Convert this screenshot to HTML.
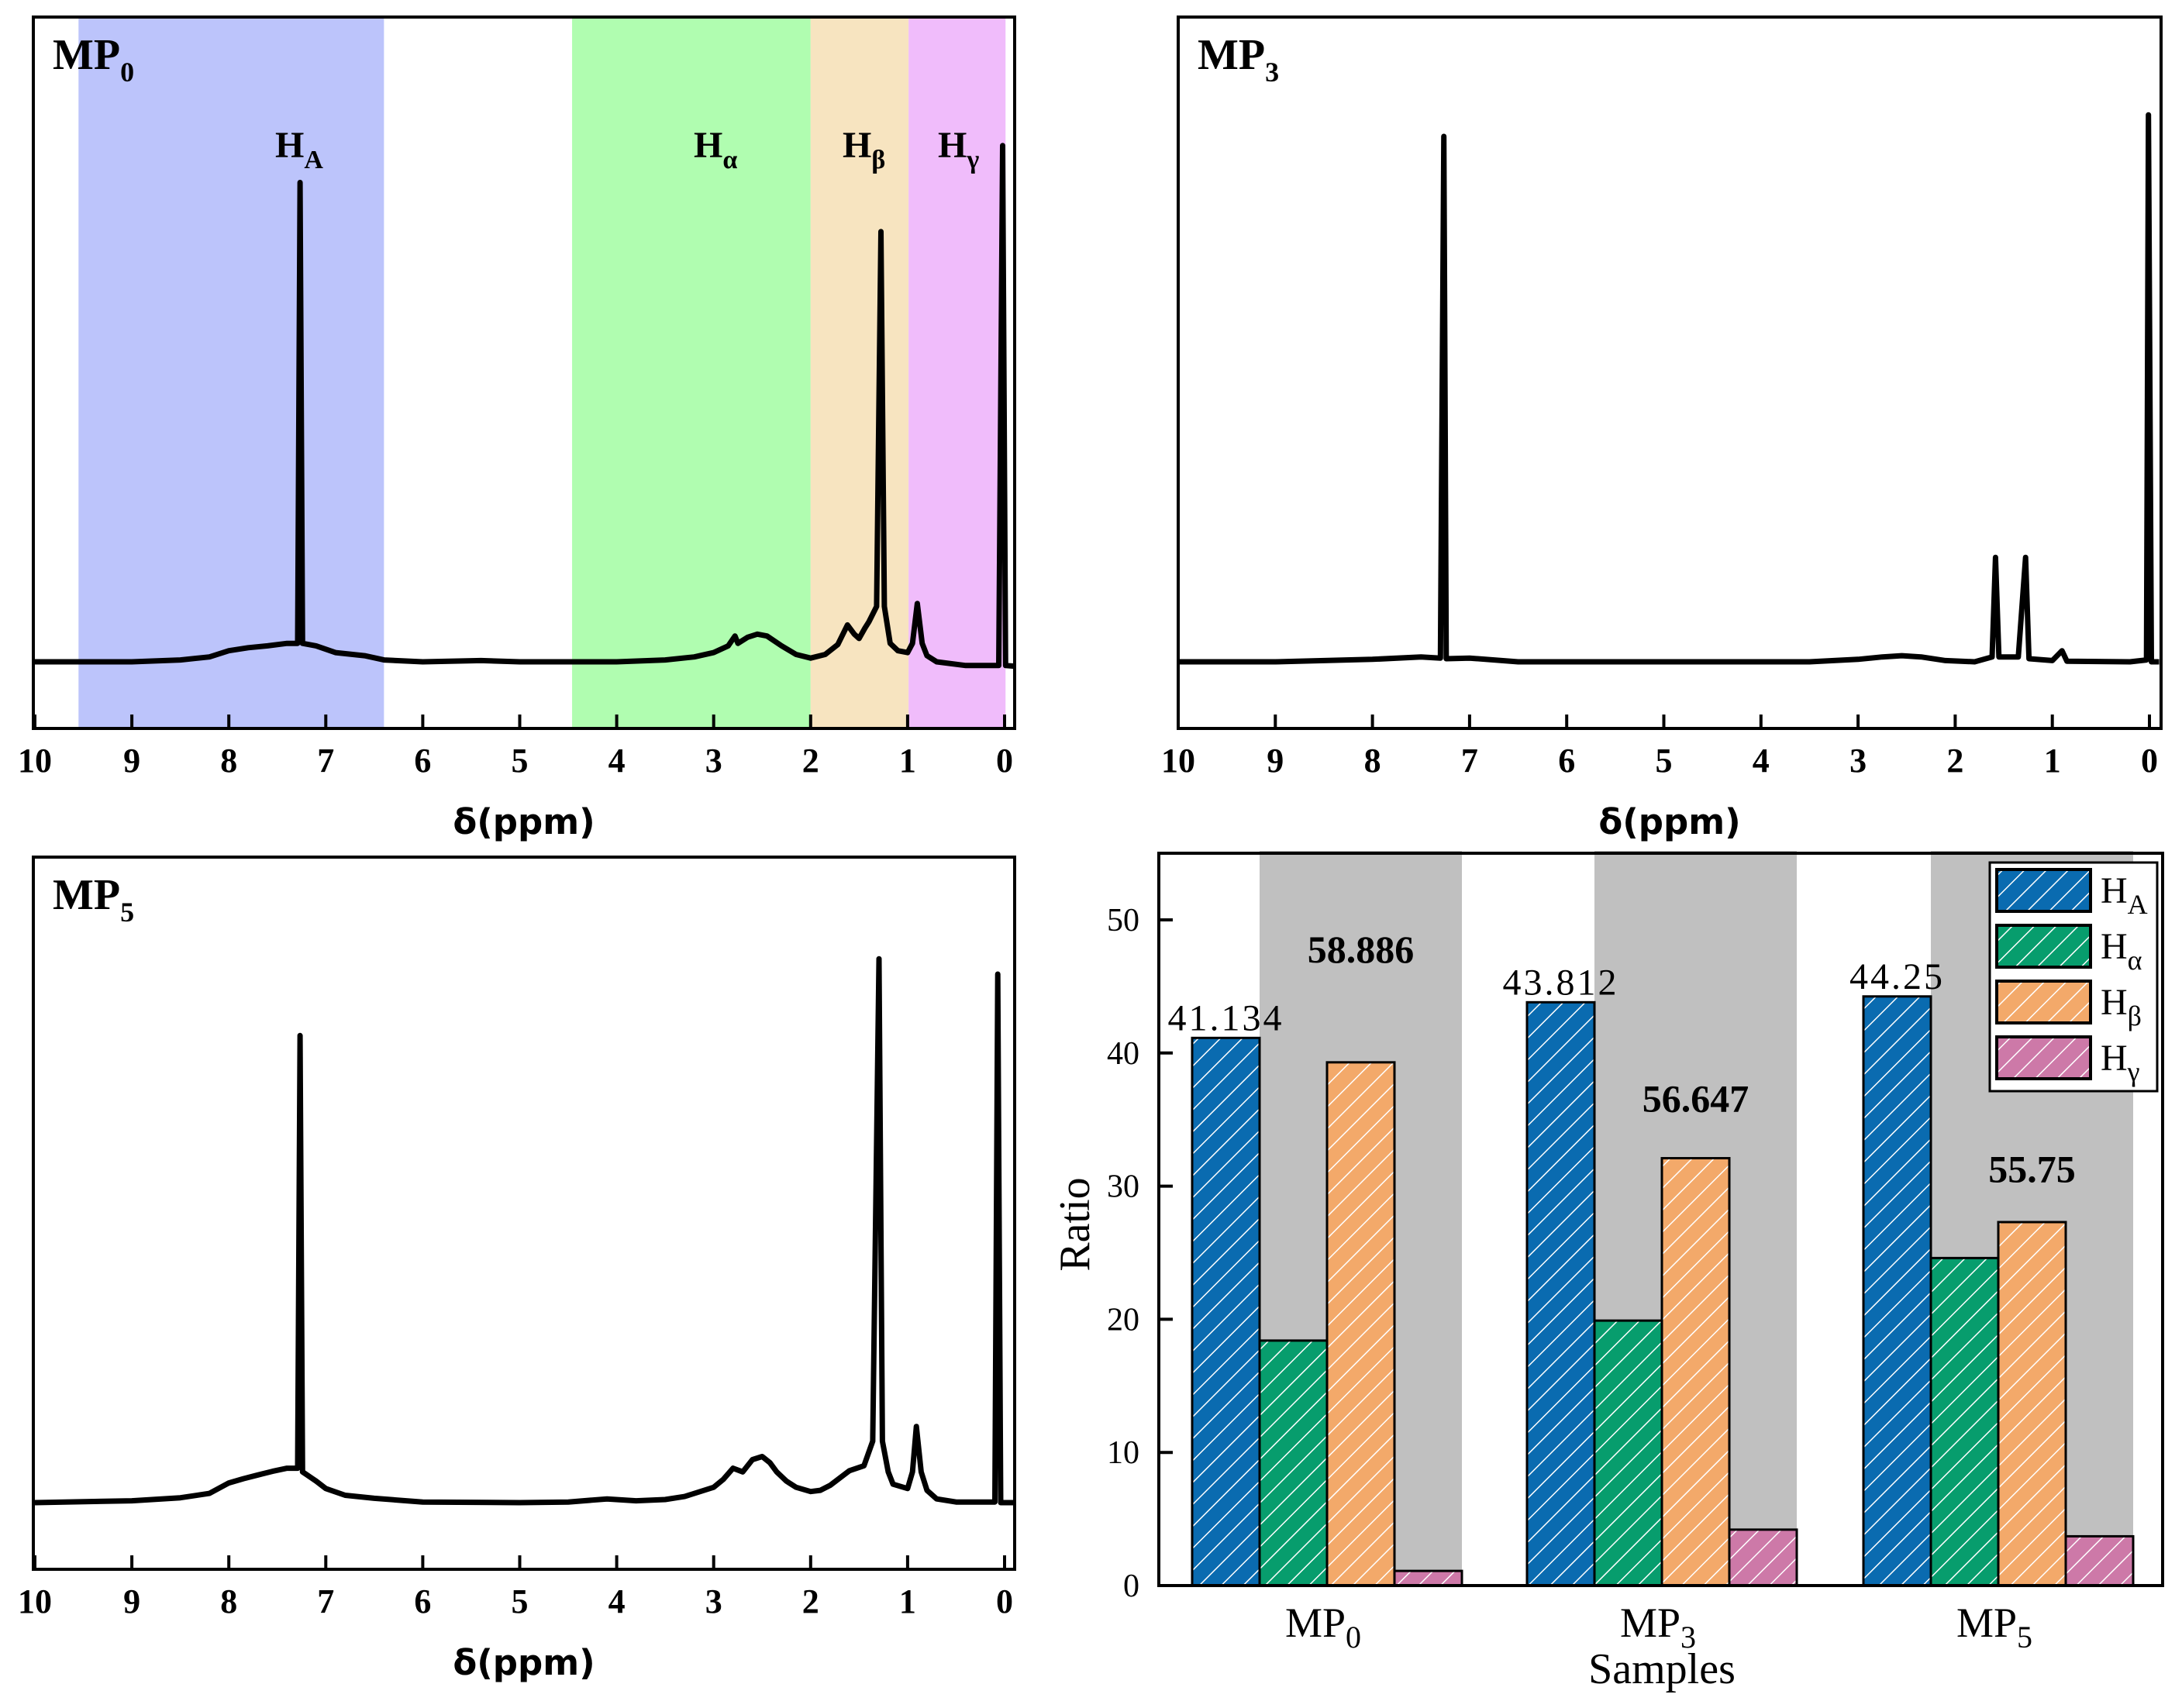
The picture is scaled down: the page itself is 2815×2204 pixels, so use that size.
<!DOCTYPE html>
<html><head><meta charset="utf-8"><style>
body{margin:0;background:#fff}
svg{display:block}
.tk{font-family:"Liberation Serif",serif;font-weight:bold;font-size:44px}
.ax{font-family:"DejaVu Sans",sans-serif;font-weight:bold;font-size:45px}
.lab{font-family:"Liberation Serif",serif;font-weight:bold;font-size:56px}
.bt{font-family:"Liberation Serif",serif;font-size:42px}
</style></head><body>
<svg id="fig" width="2815" height="2204" viewBox="0 0 2815 2204" xmlns="http://www.w3.org/2000/svg">
<defs>
<pattern id="hatch-b" width="20" height="20" patternUnits="userSpaceOnUse" patternTransform="rotate(45)"><rect width="20" height="20" fill="#0a6bb0"/><line x1="0" y1="0" x2="0" y2="20" stroke="#fff" stroke-width="3"/></pattern>
<pattern id="hatch-g" width="20" height="20" patternUnits="userSpaceOnUse" patternTransform="rotate(45)"><rect width="20" height="20" fill="#079d6d"/><line x1="0" y1="0" x2="0" y2="20" stroke="#fff" stroke-width="3"/></pattern>
<pattern id="hatch-o" width="20" height="20" patternUnits="userSpaceOnUse" patternTransform="rotate(45)"><rect width="20" height="20" fill="#f3a96a"/><line x1="0" y1="0" x2="0" y2="20" stroke="#fff" stroke-width="3"/></pattern>
<pattern id="hatch-p" width="20" height="20" patternUnits="userSpaceOnUse" patternTransform="rotate(45)"><rect width="20" height="20" fill="#cd79a8"/><line x1="0" y1="0" x2="0" y2="20" stroke="#fff" stroke-width="3"/></pattern>
</defs>
<g id="root"></g>
</svg>
<script>
// ---- spectrum data: [ppm, intensity] ----
const mp0Points=[[10,0],[9,0],[8.5,0.3],[8.2,0.8],[8.0,1.8],[7.8,2.3],[7.6,2.6],[7.4,3],[7.29,3],[7.265,78],[7.24,3],[7.1,2.6],[6.9,1.5],[6.6,1],[6.4,0.3],[6,0],[5.4,0.2],[5,0],[4,0],[3.5,0.3],[3.2,0.8],[3,1.5],[2.85,2.6],[2.78,4.2],[2.75,3],[2.65,4],[2.55,4.5],[2.45,4.2],[2.3,2.6],[2.15,1.2],[2.0,0.6],[1.85,1.2],[1.72,2.8],[1.62,6],[1.55,4.5],[1.5,3.8],[1.44,5.5],[1.4,6.5],[1.32,9],[1.275,70],[1.24,9],[1.18,3],[1.1,1.8],[1.0,1.5],[0.95,3],[0.9,9.5],[0.85,3],[0.8,1],[0.7,0],[0.4,-0.6],[0.06,-0.6],[0.02,84],[-0.01,-0.6],[-0.1,-0.7]];
const mp3Points=[[10,0],[9,0],[8,0.4],[7.5,0.8],[7.3,0.6],[7.265,85.5],[7.24,0.5],[7,0.6],[6.5,0],[5,0],[3.5,0],[3,0.4],[2.75,0.8],[2.55,1],[2.35,0.8],[2.1,0.2],[1.8,0],[1.62,0.8],[1.585,17],[1.55,0.8],[1.35,0.8],[1.275,17],[1.24,0.5],[1.0,0.2],[0.9,1.8],[0.85,0.1],[0.2,0],[0.03,0.3],[0.01,89],[-0.02,0],[-0.1,0]];
const mp5Points=[[10,0],[9,0.3],[8.5,0.8],[8.2,1.5],[8.0,3.2],[7.85,3.9],[7.7,4.5],[7.55,5.1],[7.4,5.6],[7.29,5.6],[7.265,76],[7.24,5],[7.1,3.5],[7.0,2.3],[6.8,1.2],[6.5,0.7],[6,0.1],[5,0],[4.5,0.1],[4.1,0.6],[3.8,0.3],[3.5,0.5],[3.3,1],[3.0,2.5],[2.9,3.8],[2.8,5.6],[2.7,5],[2.6,7],[2.5,7.5],[2.42,6.5],[2.35,5],[2.25,3.5],[2.15,2.5],[2.0,1.8],[1.9,2],[1.8,2.8],[1.7,4],[1.6,5.2],[1.45,6],[1.36,10],[1.295,88.5],[1.26,10],[1.2,5],[1.15,3],[1.0,2.3],[0.95,5],[0.91,12.4],[0.86,5],[0.8,2],[0.7,0.6],[0.5,0.1],[0.1,0.1],[0.07,86],[0.04,0],[-0.1,0]];
const ppmTicks=[10,9,8,7,6,5,4,3,2,1,0];
// ---- bar chart data ----
const samples=["MP","MP","MP"];
const sampleSubs=["0","3","5"];
const seriesNames=["A","α","β","γ"];
const HA=[41.134,43.812,44.25];
const Halpha=[18.4,19.9,24.6];
const Hbeta=[39.3,32.1,27.3];
const Hgamma=[1.1,4.2,3.7];
const sumValues=["58.886","56.647","55.75"];
const sumLabelAt=[46.8,35.6,30.3];
const yTicks=[0,10,20,30,40,50];

const NS="http://www.w3.org/2000/svg";
const root=document.getElementById('root');
function mk(tag,attrs,parent,text){const e=document.createElementNS(NS,tag);
  for(const k in attrs){if(k==='font-size')e.style.fontSize=attrs[k]+'px';else if(k==='ls')e.style.letterSpacing=attrs[k]+'px';else e.setAttribute(k,attrs[k]);}
  if(text!==undefined)e.textContent=text;(parent||root).appendChild(e);return e;}

function spectrum(name,fx,fy,box,points,bands,title,labels){
  const g=mk('g',{});
  
  
  bands.forEach(b=>{const r=mk('rect',{x:fx(b[0]),y:box.y0,width:fx(b[1])-fx(b[0]),height:box.y1-box.y0,fill:b[2]},g);
    
    });
  const d=points.map((p,i)=>(i?'L':'M')+fx(p[0]).toFixed(1)+','+fy(p[1]).toFixed(1)).join(' ');
  const path=mk('path',{d:d,fill:'none',stroke:'#000','stroke-width':7,'stroke-linejoin':'round'},g);
  
  
  const fr=mk('rect',{x:box.x0,y:box.y0,width:box.x1-box.x0,height:box.y1-box.y0,fill:'none',stroke:'#000','stroke-width':4},g);
  
  
  ppmTicks.forEach(t=>{mk('line',{x1:fx(t),x2:fx(t),y1:box.y1,y2:box.y1-18,stroke:'#000','stroke-width':4},g);
    const tl=mk('text',{x:fx(t),y:box.y1+56,'text-anchor':'middle',class:'tk'},g,String(t));
    
    });
  const xt=mk('text',{x:(box.x0+box.x1)/2,y:box.y1+136,'text-anchor':'middle',class:'ax'},g,'δ(ppm)');
  
  
  const tt=mk('text',{x:box.x0+25,y:box.y0+67,class:'lab'},g);
  
  
  mk('tspan',{},tt,'MP');mk('tspan',{dy:16,'font-size':36},tt,title);
  labels.forEach(l=>{const t=mk('text',{x:l[0],y:l[1],class:'lab','font-size':48},g);
    
    
    mk('tspan',{},t,'H');mk('tspan',{dy:14,'font-size':34},t,l[2]);});
}
function lin(d0,d1,r0,r1){return v=>r0+(v-d0)/(d1-d0)*(r1-r0);}
// panel 1
{const box={x0:43,x1:1309,y0:22,y1:940};const fx=lin(10,0,45,1296);const fy=lin(0,1,854,846.07);
 spectrum('spectrum-mp0',fx,fy,box,mp0Points,[[9.55,6.4,'#bcc4fb'],[4.46,2.0,'#b0fdb0'],[2.0,0.99,'#f7e4c0'],[0.99,-0.01,'#f0bcfb']],'0',
 [[355,203,'A'],[895,203,'α'],[1087,203,'β'],[1210,203,'γ']]);}
// panel 2
{const box={x0:1520,x1:2788,y0:22,y1:940};const fx=lin(10,0,1520,2773);const fy=lin(0,1,854,846.07);
 spectrum('spectrum-mp3',fx,fy,box,mp3Points,[],'3',[]);}
// panel 3
{const box={x0:43,x1:1309,y0:1106,y1:2025};const fx=lin(10,0,45,1296);const fy=lin(0,1,1939,1931.07);
 spectrum('spectrum-mp5',fx,fy,box,mp5Points,[],'5',[]);}
// bar chart
{const box={x0:1495,x1:2790,y0:1101,y1:2046};
 const fy=lin(0,50,2046,1187);const w=87;const centers=[1712,2144,2578];
 const g=mk('g',{});
 
 
 centers.forEach(c=>{const r=mk('rect',{x:c-w,y:box.y0-3,width:3*w,height:box.y1-box.y0+3,fill:'#c0c0c0'},g);
   
   });
 const series=[HA,Halpha,Hbeta,Hgamma];const fills=['url(#hatch-b)','url(#hatch-g)','url(#hatch-o)','url(#hatch-p)'];
 series.forEach((s,si)=>s.forEach((v,i)=>{const x=centers[i]+(si-2)*w;
   const r=mk('rect',{x:x,y:fy(v),width:w,height:fy(0)-fy(v),fill:fills[si],stroke:'#000','stroke-width':3},g);
   
   }));
 HA.forEach((v,i)=>{const t=mk('text',{x:centers[i]-1.5*w,y:fy(v)-10,'text-anchor':'middle',class:'bt','font-size':48,ls:3},g,String(v));
   
   });
 sumValues.forEach((s,i)=>{const t=mk('text',{x:centers[i]+0.5*w,y:fy(sumLabelAt[i]),'text-anchor':'middle',class:'lab','font-size':50},g,s);
   
   });
 const fr=mk('rect',{x:box.x0,y:box.y0,width:box.x1-box.x0,height:box.y1-box.y0,fill:'none',stroke:'#000','stroke-width':4},g);
 
 
 yTicks.forEach(t=>{mk('line',{x1:box.x0,x2:box.x0+18,y1:fy(t),y2:fy(t),stroke:'#000','stroke-width':4},g);
   const l=mk('text',{x:box.x0-25,y:fy(t)+14,'text-anchor':'end',class:'bt'},g,String(t));
   
   });
 samples.forEach((s,i)=>{const t=mk('text',{x:centers[i]-5,y:box.y1+66,'text-anchor':'middle',class:'bt','font-size':54},g);
   
   
   mk('tspan',{},t,s);mk('tspan',{dy:14,'font-size':40},t,sampleSubs[i]);});
 const xt=mk('text',{x:2144,y:2172,'text-anchor':'middle',class:'bt','font-size':56},g,'Samples');
 
 
 const yt=mk('text',{x:1405,y:1580,'text-anchor':'middle',class:'bt','font-size':56,transform:'rotate(-90 1405 1580)'},g,'Ratio');
 
 
 const lg=mk('g',{},g);
 
 
 mk('rect',{x:2567,y:1113,width:216,height:295,fill:'#fff',stroke:'#000','stroke-width':3},lg);
 seriesNames.forEach((n,i)=>{const y=1122+i*72;
   const sw=mk('rect',{x:2576,y:y,width:121,height:54,fill:fills[i],stroke:'#000','stroke-width':4},lg);
   
   
   const t=mk('text',{x:2710,y:y+43,class:'bt','font-size':48},lg);
   
   
   mk('tspan',{},t,'H');mk('tspan',{dy:14,'font-size':36},t,n);});
}
</script>
</body></html>
